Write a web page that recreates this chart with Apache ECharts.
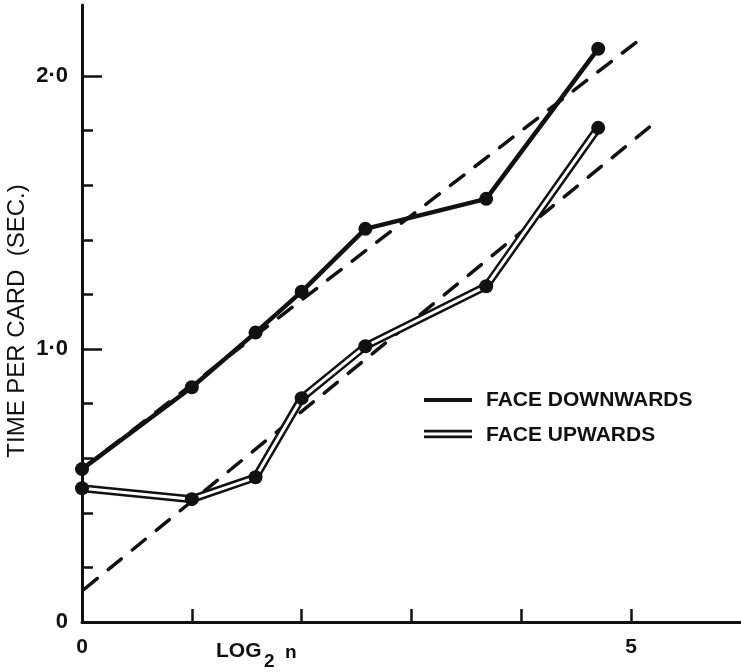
<!DOCTYPE html>
<html>
<head>
<meta charset="utf-8">
<script src="https://cdn.jsdelivr.net/npm/echarts@6/dist/echarts.min.js"></script>
<style>
  html, body { margin: 0; padding: 0; background: #fff; }
  #chart { width: 741px; height: 672px; }
</style>
</head>
<body>
<div id="chart"></div>
<script>
// Sorting time per card against log2 of the number of piles
const log2n         = [0, 1, 1.58, 2, 2.58, 3.68, 4.70];
const faceDownwards = [0.56, 0.86, 1.06, 1.21, 1.44, 1.55, 2.10];
const faceUpwards   = [0.49, 0.45, 0.53, 0.82, 1.01, 1.23, 1.81];

// fitted straight lines (dashed)
const fitDownwards = [[0, 0.56], [5.10, 2.14]];
const fitUpwards   = [[0.02, 0.12], [5.25, 1.84]];

// axis ticks and labels
const xTickValues  = [1, 2, 3, 4, 5];
const xLabelValues = [0, 5];
const yMinorTicks  = [0.2, 0.4, 0.6, 0.8, 1.2, 1.4, 1.6, 1.8];
const yMajorTicks  = [1, 2];
const yLabelValues = [0, 1, 2];

const FONT = "'Liberation Sans', Arial, sans-serif";
const INK = '#111';

const pairs = (xs, ys) => xs.map((x, i) => [x, ys[i]]);
const yFmt = v => (v === 0 ? '0' : v.toFixed(1).replace('.', '\u00B7'));

const chart = echarts.init(document.getElementById('chart'), null, { renderer: 'canvas' });

const yBase = {
  type: 'value', min: 0, max: 2.26, position: 'left',
  splitLine: { show: false }
};

chart.setOption({
  animation: false,
  backgroundColor: '#fff',
  grid: { left: 82, right: 0, top: 5, bottom: 50 },
  xAxis: {
    type: 'value', min: 0, max: 6, interval: 1,
    splitLine: { show: false },
    axisLine: { lineStyle: { color: INK, width: 3 } },
    axisTick: { show: true, inside: true, length: 13, customValues: xTickValues,
                lineStyle: { color: INK, width: 2.5 } },
    axisLabel: { customValues: xLabelValues, margin: 15,
                 color: INK, fontFamily: FONT, fontWeight: 'bold', fontSize: 21 }
  },
  yAxis: [
    Object.assign({}, yBase, {
      axisLine: { show: true, lineStyle: { color: INK, width: 3 } },
      axisTick: { show: true, inside: true, length: 11, customValues: yMinorTicks,
                  lineStyle: { color: INK, width: 2.5 } },
      axisLabel: { customValues: yLabelValues, formatter: yFmt, margin: 14,
                   color: INK, fontFamily: FONT, fontWeight: 'bold', fontSize: 22 }
    }),
    Object.assign({}, yBase, {
      axisLine: { show: false },
      axisTick: { show: true, inside: true, length: 20, customValues: yMajorTicks,
                  lineStyle: { color: INK, width: 2.5 } },
      axisLabel: { show: false }
    })
  ],
  series: [
    {
      name: 'fit downwards', type: 'line', data: fitDownwards, symbol: 'none', z: 1,
      lineStyle: { color: INK, width: 3.5, type: [17, 14], cap: 'round' }
    },
    {
      name: 'fit upwards', type: 'line', data: fitUpwards, symbol: 'none', z: 1,
      lineStyle: { color: INK, width: 3.5, type: [17, 14], cap: 'round' }
    },
    {
      name: 'FACE DOWNWARDS', type: 'line', data: pairs(log2n, faceDownwards),
      symbol: 'none', z: 3,
      lineStyle: { color: INK, width: 4.5, join: 'round' }
    },
    {
      name: 'FACE UPWARDS', type: 'line', data: pairs(log2n, faceUpwards),
      symbol: 'none', z: 3,
      lineStyle: { color: INK, width: 8, join: 'round' }
    },
    {
      name: 'FACE UPWARDS inner', type: 'line', data: pairs(log2n, faceUpwards),
      symbol: 'none', z: 4,
      lineStyle: { color: '#fff', width: 3, join: 'round' }
    },
    {
      type: 'scatter', data: pairs(log2n, faceDownwards), symbolSize: 14, z: 5,
      clip: false, itemStyle: { color: INK, opacity: 1 }
    },
    {
      type: 'scatter', data: pairs(log2n, faceUpwards), symbolSize: 14, z: 5,
      clip: false, itemStyle: { color: INK, opacity: 1 }
    }
  ],
  graphic: [
    // y axis title
    {
      type: 'text', x: 17, y: 321, rotation: Math.PI / 2,
      style: { text: 'TIME PER CARD  (SEC.)', fill: INK, font: `24px ${FONT}`,
               align: 'center', verticalAlign: 'middle' }
    },
    // x axis title: LOG₂ n
    {
      type: 'text', x: 216, y: 651,
      style: { text: 'LOG', fill: INK, font: `bold 21px ${FONT}`, verticalAlign: 'middle' }
    },
    {
      type: 'text', x: 264, y: 662,
      style: { text: '2', fill: INK, font: `bold 19px ${FONT}`, verticalAlign: 'middle' }
    },
    {
      type: 'text', x: 285, y: 653,
      style: { text: 'n', fill: INK, font: `bold 19px ${FONT}`, verticalAlign: 'middle' }
    },
    // legend
    {
      type: 'line', shape: { x1: 424, y1: 400, x2: 472, y2: 400 },
      style: { stroke: INK, lineWidth: 4 }
    },
    {
      type: 'text', x: 486, y: 400,
      style: { text: 'FACE DOWNWARDS', fill: INK, font: `bold 21px ${FONT}`, verticalAlign: 'middle' }
    },
    {
      type: 'line', shape: { x1: 424, y1: 434, x2: 472, y2: 434 },
      style: { stroke: INK, lineWidth: 8.5 }
    },
    {
      type: 'line', shape: { x1: 423, y1: 434, x2: 473, y2: 434 },
      style: { stroke: '#fff', lineWidth: 3 }
    },
    {
      type: 'text', x: 486, y: 435,
      style: { text: 'FACE UPWARDS', fill: INK, font: `bold 21px ${FONT}`, verticalAlign: 'middle' }
    }
  ]
});
</script>
</body>
</html>
